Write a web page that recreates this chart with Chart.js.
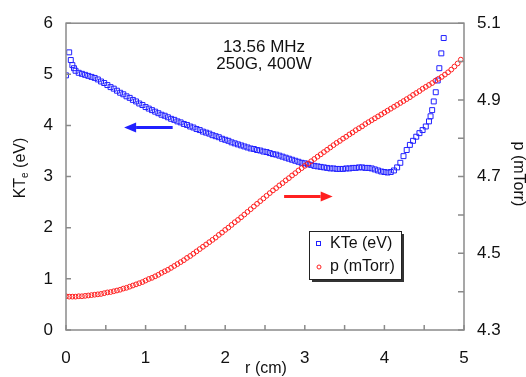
<!DOCTYPE html>
<html>
<head>
<meta charset="utf-8">
<script src="https://cdn.jsdelivr.net/npm/chart.js@4/dist/chart.umd.min.js"></script>
<style>
  body { margin: 0; background: #fff; }
  #wrap { width: 526px; height: 377px; }
</style>
</head>
<body>
<div id="wrap"><canvas id="plasmaChart" width="526" height="377"></canvas></div>
<script>
// KTe (eV) vs radius
const rKTe = [0, 0.04, 0.06, 0.08, 0.10, 0.12, 0.16, 0.20, 0.24, 0.28, 0.32, 0.36, 0.40, 0.44, 0.48,
  0.52, 0.56, 0.60, 0.64, 0.68, 0.72, 0.76, 0.80, 0.84, 0.88, 0.92, 0.96, 1.00, 1.04, 1.08,
  1.12, 1.16, 1.20, 1.24, 1.28, 1.32, 1.36, 1.40, 1.44, 1.48, 1.52, 1.56, 1.60, 1.64, 1.68,
  1.72, 1.76, 1.80, 1.84, 1.88, 1.92, 1.96, 2.00, 2.04, 2.08, 2.12, 2.16, 2.20, 2.24, 2.28,
  2.32, 2.36, 2.40, 2.44, 2.48, 2.52, 2.56, 2.60, 2.64, 2.68, 2.72, 2.76, 2.80, 2.84, 2.88,
  2.92, 2.96, 3.00, 3.04, 3.08, 3.12, 3.16, 3.20, 3.24, 3.28, 3.32, 3.36, 3.40, 3.44, 3.48,
  3.52, 3.56, 3.60, 3.64, 3.68, 3.72, 3.76, 3.80, 3.84, 3.88, 3.92, 3.96, 4.00, 4.04, 4.08,
  4.12, 4.16, 4.20, 4.24, 4.28, 4.32, 4.36, 4.40, 4.44, 4.48, 4.52, 4.56, 4.58, 4.60, 4.62,
  4.645, 4.67, 4.69, 4.715, 4.745];
const kte = [4.98, 5.43, 5.28, 5.18, 5.12, 5.07, 5.03, 5.01, 4.99, 4.97, 4.95, 4.93, 4.90, 4.86, 4.83,
  4.79, 4.75, 4.72, 4.68, 4.64, 4.61, 4.57, 4.54, 4.50, 4.47, 4.43, 4.40, 4.36, 4.33, 4.30,
  4.27, 4.24, 4.21, 4.19, 4.16, 4.13, 4.11, 4.08, 4.06, 4.03, 4.01, 3.98, 3.96, 3.93, 3.91,
  3.88, 3.86, 3.84, 3.81, 3.79, 3.77, 3.74, 3.72, 3.70, 3.67, 3.65, 3.63, 3.61, 3.59, 3.57,
  3.55, 3.54, 3.52, 3.51, 3.49, 3.48, 3.46, 3.44, 3.43, 3.41, 3.39, 3.37, 3.35, 3.33, 3.31,
  3.29, 3.27, 3.26, 3.24, 3.23, 3.21, 3.20, 3.19, 3.18, 3.17, 3.16, 3.16, 3.15, 3.15, 3.15,
  3.16, 3.16, 3.17, 3.17, 3.18, 3.18, 3.17, 3.17, 3.16, 3.14, 3.12, 3.10, 3.09, 3.08, 3.09,
  3.12, 3.18, 3.27, 3.40, 3.52, 3.62, 3.70, 3.78, 3.85, 3.91, 3.98, 4.08, 4.18, 4.30, 4.47,
  4.65, 4.88, 5.12, 5.41, 5.71];

// p (mTorr) vs radius
const rP = [0, 0.04, 0.08, 0.12, 0.16, 0.20, 0.24, 0.28, 0.32, 0.36, 0.40, 0.44, 0.48, 0.52, 0.56,
  0.60, 0.64, 0.68, 0.72, 0.76, 0.80, 0.84, 0.88, 0.92, 0.96, 1.00, 1.04, 1.08, 1.12, 1.16,
  1.20, 1.24, 1.28, 1.32, 1.36, 1.40, 1.44, 1.48, 1.52, 1.56, 1.60, 1.64, 1.68, 1.72, 1.76,
  1.80, 1.84, 1.88, 1.92, 1.96, 2.00, 2.04, 2.08, 2.12, 2.16, 2.20, 2.24, 2.28, 2.32, 2.36,
  2.40, 2.44, 2.48, 2.52, 2.56, 2.60, 2.64, 2.68, 2.72, 2.76, 2.80, 2.84, 2.88, 2.92, 2.96,
  3.00, 3.04, 3.08, 3.12, 3.16, 3.20, 3.24, 3.28, 3.32, 3.36, 3.40, 3.44, 3.48, 3.52, 3.56,
  3.60, 3.64, 3.68, 3.72, 3.76, 3.80, 3.84, 3.88, 3.92, 3.96, 4.00, 4.04, 4.08, 4.12, 4.16,
  4.20, 4.24, 4.28, 4.32, 4.36, 4.40, 4.44, 4.48, 4.52, 4.56, 4.60, 4.64, 4.68, 4.72, 4.76,
  4.80, 4.84, 4.88, 4.92, 4.96];
const pTorr = [4.388, 4.387, 4.387, 4.387, 4.388, 4.388, 4.389, 4.390, 4.391, 4.392, 4.393, 4.394, 4.396, 4.398, 4.399,
  4.401, 4.403, 4.405, 4.408, 4.410, 4.413, 4.416, 4.419, 4.422, 4.425, 4.429, 4.433, 4.436, 4.440, 4.444,
  4.449, 4.453, 4.457, 4.462, 4.467, 4.472, 4.477, 4.482, 4.488, 4.493, 4.499, 4.505, 4.511, 4.517, 4.523,
  4.529, 4.535, 4.541, 4.548, 4.554, 4.561, 4.567, 4.574, 4.581, 4.587, 4.594, 4.601, 4.608, 4.615, 4.622,
  4.629, 4.636, 4.643, 4.650, 4.657, 4.664, 4.670, 4.677, 4.683, 4.690, 4.696, 4.703, 4.709, 4.716, 4.722,
  4.728, 4.734, 4.740, 4.746, 4.752, 4.758, 4.764, 4.770, 4.776, 4.782, 4.788, 4.793, 4.799, 4.804, 4.810,
  4.815, 4.821, 4.826, 4.831, 4.837, 4.842, 4.847, 4.852, 4.857, 4.862, 4.867, 4.872, 4.877, 4.882, 4.887,
  4.892, 4.897, 4.902, 4.907, 4.913, 4.918, 4.923, 4.929, 4.934, 4.939, 4.944, 4.950, 4.955, 4.960, 4.966,
  4.972, 4.979, 4.987, 4.995, 5.005];

const seriesNames = ['KTe (eV)', 'p (mTorr)'];
const noteLines = ['13.56 MHz', '250G, 400W'];
// arrows in data units (r, KTe): from -> to
const blueArrow = { x0: 1.34, x1: 0.73, y: 3.96 };
const redArrow = { x0: 2.74, x1: 3.35, y: 2.61 };

const BLUE = '#2020ff';
const RED = '#ff2020';
const AXIS = '#8a8a8a';
const FONT = '"Liberation Sans", Arial, sans-serif';

function arrow(ctx, xs, ys, a, color) {
  const xa = xs.getPixelForValue(a.x0);
  const xb = xs.getPixelForValue(a.x1);
  const y = ys.getPixelForValue(a.y);
  const dir = Math.sign(xb - xa);
  const head = 12;
  ctx.save();
  ctx.strokeStyle = color;
  ctx.fillStyle = color;
  ctx.lineWidth = 3;
  ctx.beginPath();
  ctx.moveTo(xa, y);
  ctx.lineTo(xb - dir * head, y);
  ctx.stroke();
  ctx.beginPath();
  ctx.moveTo(xb, y);
  ctx.lineTo(xb - dir * head, y - 5);
  ctx.lineTo(xb - dir * head, y + 5);
  ctx.closePath();
  ctx.fill();
  ctx.restore();
}

const decor = {
  id: 'decor',
  afterDraw(chart) {
    const { ctx, chartArea: a, scales } = chart;
    const xs = scales.x, ys = scales.y, y2 = scales.y2;
    ctx.save();
    // frame
    ctx.strokeStyle = AXIS;
    ctx.lineWidth = 1.5;
    ctx.strokeRect(a.left, a.top, a.right - a.left, a.bottom - a.top);
    // inward tick marks
    ctx.beginPath();
    xs.ticks.forEach(t => {
      const px = xs.getPixelForValue(t.value);
      ctx.moveTo(px, a.bottom); ctx.lineTo(px, a.bottom - 5);
    });
    ys.ticks.forEach(t => {
      const py = ys.getPixelForValue(t.value);
      ctx.moveTo(a.left, py); ctx.lineTo(a.left + 5, py);
    });
    y2.ticks.forEach(t => {
      const py = y2.getPixelForValue(t.value);
      ctx.moveTo(a.right, py); ctx.lineTo(a.right - 6, py);
    });
    ctx.stroke();

    // arrows
    arrow(ctx, xs, ys, blueArrow, BLUE);
    arrow(ctx, xs, ys, redArrow, RED);

    // condition note
    ctx.fillStyle = '#111';
    ctx.font = '17px ' + FONT;
    ctx.textAlign = 'center';
    ctx.textBaseline = 'middle';
    ctx.fillText(noteLines[0], 264, 47);
    ctx.fillText(noteLines[1], 264, 64);

    // axis titles
    ctx.font = '16px ' + FONT;
    ctx.fillText('r (cm)', 266, 369);

    ctx.save();
    ctx.translate(518, 174);
    ctx.rotate(Math.PI / 2);
    ctx.fillText(seriesNames[1], 0, 0);
    ctx.restore();

    ctx.save();
    ctx.translate(21, 168);
    ctx.rotate(-Math.PI / 2);
    ctx.textAlign = 'left';
    ctx.font = '16px ' + FONT;
    const w1 = ctx.measureText('KT').width;
    ctx.font = '10px ' + FONT;
    const w2 = ctx.measureText('e').width;
    ctx.font = '16px ' + FONT;
    const w3 = ctx.measureText(' (eV)').width;
    let x = -(w1 + w2 + w3) / 2;
    ctx.fillText('KT', x, 0); x += w1;
    ctx.font = '10px ' + FONT;
    ctx.fillText('e', x, 4); x += w2;
    ctx.font = '16px ' + FONT;
    ctx.fillText(' (eV)', x, 0);
    ctx.restore();

    // legend box with shadow
    const lx = 309, ly = 231, lw = 92, lh = 48;
    ctx.fillStyle = '#333';
    ctx.fillRect(lx + 3, ly + 3, lw, lh);
    ctx.fillStyle = '#fff';
    ctx.fillRect(lx, ly, lw, lh);
    ctx.strokeStyle = '#222';
    ctx.lineWidth = 1;
    ctx.strokeRect(lx + 0.5, ly + 0.5, lw, lh);
    ctx.lineWidth = 1;
    ctx.strokeStyle = BLUE;
    ctx.strokeRect(316.5, 241.5, 4, 4);
    ctx.strokeStyle = RED;
    ctx.beginPath();
    ctx.arc(319, 267, 2, 0, Math.PI * 2);
    ctx.stroke();
    ctx.fillStyle = '#111';
    ctx.textAlign = 'left';
    ctx.font = '16px ' + FONT;
    ctx.fillText(seriesNames[0], 330, 244);
    ctx.fillText(seriesNames[1], 330, 267);
    ctx.restore();
  }
};

new Chart(document.getElementById('plasmaChart'), {
  type: 'scatter',
  data: {
    datasets: [
      {
        label: seriesNames[0],
        data: rKTe.map((r, i) => ({ x: r, y: kte[i] })),
        yAxisID: 'y',
        pointStyle: 'rect',
        pointRadius: 3.5,
        borderWidth: 1,
        borderColor: BLUE,
        backgroundColor: 'rgba(255,255,255,0)',
        showLine: false,
        order: 1
      },
      {
        label: seriesNames[1],
        data: rP.map((r, i) => ({ x: r, y: pTorr[i] })),
        yAxisID: 'y2',
        pointStyle: 'circle',
        pointRadius: 2.4,
        borderWidth: 1,
        borderColor: RED,
        backgroundColor: 'rgba(255,255,255,0)',
        showLine: false,
        order: 0
      }
    ]
  },
  options: {
    responsive: false,
    animation: false,
    layout: { padding: { top: 19, left: 0, right: 0, bottom: 0 } },
    plugins: { legend: { display: false }, tooltip: { enabled: false } },
    scales: {
      x: {
        type: 'linear', min: 0, max: 5,
        grid: { display: false, drawTicks: false },
        border: { display: false },
        ticks: {
          stepSize: 0.5, padding: 18, color: '#111',
          font: { family: FONT, size: 17 },
          callback: v => Math.abs(v - Math.round(v)) < 1e-6 ? String(Math.round(v)) : ''
        },
        afterFit: s => { s.height = 47; }
      },
      y: {
        position: 'left', min: 0, max: 6,
        grid: { display: false, drawTicks: false },
        border: { display: false },
        ticks: { stepSize: 1, padding: 13, color: '#111', font: { family: FONT, size: 17 } },
        afterFit: s => { s.width = 66; }
      },
      y2: {
        position: 'right', min: 4.3, max: 5.1,
        grid: { display: false, drawTicks: false },
        border: { display: false },
        ticks: {
          stepSize: 0.1, padding: 13, color: '#111', autoSkip: false,
          font: { family: FONT, size: 17 },
          callback: v => Math.round(v * 10) % 2 === 1 ? v.toFixed(1) : ''
        },
        afterFit: s => { s.width = 62; }
      }
    }
  },
  plugins: [decor]
});
</script>
</body>
</html>
